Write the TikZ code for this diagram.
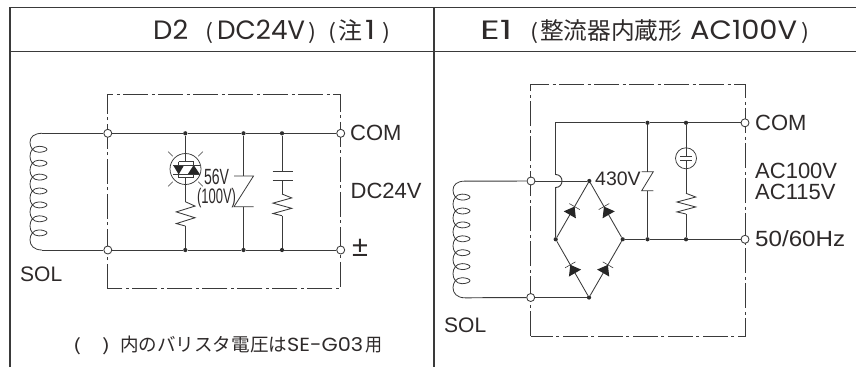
\documentclass[tikz,border=0pt]{standalone}
\usepackage{fontspec}
\usepackage{graphicx}
\usetikzlibrary{calc}
\setmainfont{Liberation Sans}
\newfontfamily\jpf{Noto Sans CJK JP}
\newfontfamily\rdf{Poppins}
\definecolor{ink}{HTML}{3A3A3A}
\definecolor{txt}{HTML}{2E2A2A}
\tikzset{
  x=1pt,y=-1pt,
  tableline/.style={draw=ink,line width=1.1pt},
  wire/.style={draw=ink,line width=0.95pt,line join=miter},
  thin wire/.style={draw=ink,line width=0.6pt},
  boxline/.style={draw=ink,line width=0.75pt,dash pattern=on 25pt off 3.5pt on 3pt off 3.5pt},
  term/.style={circle,draw=ink,fill=white,line width=0.85pt,minimum size=8pt,inner sep=0pt},
  dot/.style={circle,fill=ink!80!black,minimum size=4.2pt,inner sep=0pt},
  lab/.style={text=txt,font=\fontsize{22}{24}\selectfont,inner sep=0pt,anchor=west},
  clab/.style={text=txt,inner sep=0pt,anchor=center},
  blab/.style={text=txt,inner sep=0pt,anchor=base west},
  solid part/.style={fill=black!85,draw=none},
}
\newcommand{\fitw}[2]{\resizebox{#1pt}{\height}{#2}}
\newcommand{\gp}[1]{\hspace*{#1pt}}
\newcommand{\hl}[1]{\raisebox{0.5pt}{\fitw{8}{\fontsize{21}{24}\jpf #1}}}
\newcommand{\zigzag}[3]{% x, top y, height
  \draw[wire,line width=0.85pt] (#1,#2) -- (#1+9.7,#2+0.18*#3) -- (#1-9,#2+0.42*#3) -- (#1+9.7,#2+0.66*#3) -- (#1-9,#2+0.9*#3) -- (#1,#2+#3);
}
\newcommand{\coilshape}[3]{% prefix, dx, dy
  \begin{scope}[shift={(#2,#3)}]
    \coordinate (#1a) at (42,133.3);
    \coordinate (#1b) at (42,250);
    \draw[wire,line width=0.8pt] (#1a) .. controls (34,133.3) and (30,137) .. (30,142.3)
      \foreach \y in {149.3,163.2,177.1,191,204.9,218.8,232.9} {
        .. controls (30,\y-2) and (33,\y+3) .. (39,\y+3)
        .. controls (43,\y+3) and (47,\y+1.5) .. (47,\y)
        .. controls (47,\y-1.5) and (43,\y-3) .. (39,\y-3)
        .. controls (33,\y-3) and (30,\y+2) .. (30,\y+7)
      }
      .. controls (30,245.5) and (34,250) .. (#1b);
  \end{scope}
}
\newcommand{\diodeon}[3]{% from, to, fraction
  \coordinate (dm) at ($(#1)!#3!(#2)$);
  \coordinate (dt) at ($(dm)!9.5pt!(#2)$);
  \fill[solid part] ($(dm)!7pt!90:(#2)$) -- (dt) -- ($(dm)!7pt!-90:(#2)$) -- cycle;
  \draw[thin wire] ($(dt)!6pt!90:(#2)$) -- ($(dt)!6pt!-90:(#2)$);
}
\begin{document}
\begin{tikzpicture}
\useasboundingbox (0,0) rectangle (856,367);
\fill[white] (0,0) rectangle (856,367);
% table
\coordinate (tl) at (10,7.5);
\coordinate (tr) at (856,7.5);
\coordinate (bl) at (10,367);
\coordinate (hl) at (10,51.5);
\coordinate (hr) at (856,51.5);
\coordinate (mt) at (434,7.5);
\coordinate (mb) at (434,367);
\draw[tableline] (bl) -- (tl) -- (tr);
\draw[tableline] (hl) -- (hr);
\draw[tableline] (mt) -- (mb);
\node[blab] (h1) at (153,39.5) {\fontsize{26.5}{28}\rdf
  \fitw{35}{D2}\gp{17}\hl{(}\gp{4}\fitw{88}{DC24V}\gp{3}\hl{)}\gp{12}\hl{(}\gp{2}\fitw{24}{\fontsize{23.6}{26}\jpf 注}\gp{3}\fitw{10}{1}\gp{7}\hl{)}};
\node[blab] (h2) at (480,39.5) {\fontsize{26.5}{28}\rdf
  \fitw{32}{E1}\gp{18}\hl{(}\gp{2}\fitw{142}{\fontsize{23.6}{26}\jpf 整流器内蔵形}\gp{8}\fitw{107}{AC100V}\gp{4}\hl{)}};

% ---------- left panel
\draw[boxline] (107.5,288.5) -- (107.5,94.3) -- (340.7,94.3) -- (340.7,288.5) -- cycle;
\node[term] (a1) at (107.8,133.3) {};
\node[term] (a2) at (107.8,250) {};
\node[term] (a3) at (340.7,133.3) {};
\node[term] (a4) at (340.7,250) {};
\node[dot] (j1) at (185.3,133.3) {};
\node[dot] (j2) at (243.5,133.3) {};
\node[dot] (j3) at (282,133.3) {};
\node[dot] (k1) at (185.3,250) {};
\node[dot] (k2) at (243.5,250) {};
\node[dot] (k3) at (282,250) {};
\coilshape{ca}{0}{0}
\draw[wire] (caa) -- (a1);
\draw[wire] (cab) -- (a2);
\draw[wire] (a1) -- (j1) -- (j2) -- (j3) -- (a3);
\draw[wire] (a2) -- (k1) -- (k2) -- (k3) -- (a4);
% absorber
\node[circle,draw=ink,line width=0.75pt,minimum size=31pt,inner sep=0pt] (sa) at (185.5,169) {};
\foreach \a in {45,135,225,315}
  \draw[thin wire] ($(sa)+(\a:18)$) -- ($(sa)+(\a:24.5)$);
\coordinate (sat) at (185.3,161.5);
\coordinate (sab) at (185.3,177.5);
\draw[wire] (j1) -- (sat);
\draw[thin wire] (178.7,161.5) -- (193.7,161.5);
\draw[thin wire] (178.7,177.5) -- (193.7,177.5);
\draw[thin wire] (178.7,161.5) -- (178.7,177.5);
\draw[thin wire] (193.7,161.5) -- (193.7,177.5);
\fill[solid part] (173,165) -- (184.2,165) -- (178.7,174.5) -- cycle;
\fill[solid part] (187.6,174.5) -- (200,174.5) -- (193.7,165) -- cycle;
\draw[thin wire] (173,165) -- (200,165);
\draw[thin wire] (173,174.5) -- (200,174.5);
\coordinate (ra1) at (185.3,201.7);
\coordinate (ra2) at (185.3,226);
\draw[wire] (sab) -- (ra1);
\zigzag{185.3}{201.7}{24.3}
\draw[wire] (ra2) -- (k1);
% varistor
\coordinate (va1) at (243.5,176);
\coordinate (va2) at (243.5,206.7);
\draw[wire] (j2) -- (va1);
\draw[wire] (va2) -- (k2);
\draw[wire,line width=0.8pt] (234,176) -- (253.5,176) -- (234,206.7) -- (253.5,206.7);
% capacitor + resistor
\coordinate (ca1) at (282,171.7);
\coordinate (ca2) at (282,180.3);
\coordinate (rb1) at (282,194);
\coordinate (rb2) at (282,215.7);
\draw[wire] (j3) -- (ca1);
\draw[wire,line width=0.8pt] (272.7,171.7) -- (292.7,171.7);
\draw[wire,line width=0.8pt] (272.7,180.3) -- (292.7,180.3);
\draw[wire] (ca2) -- (rb1);
\zigzag{282}{194}{21.7}
\draw[wire] (rb2) -- (k3);
% left labels
\node[clab,font=\fontsize{22}{24}\selectfont] (l56) at (216.5,176.5) {\fitw{25}{56V}};
\node[clab,font=\fontsize{21}{24}\selectfont] (l100) at (216.5,198) {\fitw{39}{(100V)}};
\node[lab] (lcom) at (350,133.3) {COM};
\node[lab] (ldc) at (350.5,191) {DC24V};
\node[clab,font=\fontsize{29}{30}\selectfont] (lpm) at (360,248) {±};
\node[lab,font=\fontsize{21}{24}\selectfont] (lsol) at (20,274) {SOL};
\node[blab] (fn) at (73,351.7) {\fontsize{19}{22}\rdf
  \fitw{8}{\fontsize{17}{20}\jpf (}\gp{21}\fitw{8}{\fontsize{17}{20}\jpf )}\gp{10}\fitw{167}{\fontsize{18.5}{22}\jpf 内のバリスタ電圧は}\fitw{76}{SE-G03}\gp{2}\fitw{17}{\fontsize{18.5}{22}\jpf 用}};

% ---------- right panel
\draw[boxline] (530.7,336) -- (530.7,84.3) -- (745,84.3) -- (745,336) -- cycle;
\node[term] (b1) at (531,181) {};
\node[term] (b2) at (530.7,297.5) {};
\node[term] (b3) at (745,122.8) {};
\node[term] (b4) at (745,239.3) {};
\node[dot] (brt) at (589.3,181) {};
\node[dot] (brl) at (555.7,239.3) {};
\node[dot] (brr) at (622.7,239.3) {};
\node[dot] (brb) at (589,297.5) {};
\node[dot] (m1) at (647.5,122.8) {};
\node[dot] (m2) at (686,122.8) {};
\node[dot] (n1) at (647.5,239.3) {};
\node[dot] (n2) at (686,239.3) {};
\coilshape{cb}{423}{47.8}
\draw[wire] (cba) -- (b1);
\draw[wire] (cbb) -- (b2);
\draw[wire] (b1) -- (brt);
\draw[wire] (b2) -- (brb);
\coordinate (cor) at (555.7,122.8);
\coordinate (hop1) at (555.7,174.5);
\coordinate (hop2) at (555.7,187.5);
\draw[wire] (hop1) -- (cor) -- (m1) -- (m2) -- (b3);
\draw[wire] (hop1) .. controls (560,174.5) and (562,178) .. (562,181) .. controls (562,184) and (560,187.5) .. (hop2) -- (brl);
\draw[wire] (brr) -- (n1) -- (n2) -- (b4);
\draw[wire,line width=0.85pt] (brt) -- (brl) -- (brb) -- (brr) -- (brt);
\diodeon{brl}{brt}{0.42}
\diodeon{brr}{brt}{0.42}
\diodeon{brb}{brl}{0.42}
\diodeon{brb}{brr}{0.42}
% varistor
\coordinate (vb1) at (647.5,171.7);
\coordinate (vb2) at (647.5,190.7);
\draw[wire] (m1) -- (vb1);
\draw[wire] (vb2) -- (n1);
\draw[wire,line width=0.8pt] (641.7,171.7) -- (653.3,171.7) -- (641.7,190.7) -- (653.3,190.7);
% neon + resistor
\node[circle,draw=ink,line width=0.75pt,minimum size=21pt,inner sep=0pt] (ne) at (686,158.3) {};
\coordinate (ne1) at (686,156);
\coordinate (ne2) at (686,160.7);
\coordinate (rc1) at (686,193.3);
\coordinate (rc2) at (686,214);
\draw[wire] (m2) -- (ne1);
\draw[thin wire] (680,156) -- (692,156);
\draw[thin wire] (680,160.7) -- (692,160.7);
\draw[wire] (ne2) -- (rc1);
\zigzag{686}{193.3}{20.7}
\draw[wire] (rc2) -- (n2);
% right labels
\node[lab,font=\fontsize{19.5}{22}\selectfont] (l430) at (595,179) {430V};
\node[lab] (rcom) at (755,123) {COM};
\node[lab] (rac1) at (755,171) {AC100V};
\node[lab] (rac2) at (755,192) {AC115V};
\node[lab] (rhz) at (755,239) {\fitw{90}{50/60Hz}};
\node[lab,font=\fontsize{21}{24}\selectfont] (rsol) at (444,325) {SOL};
\end{tikzpicture}
\end{document}
